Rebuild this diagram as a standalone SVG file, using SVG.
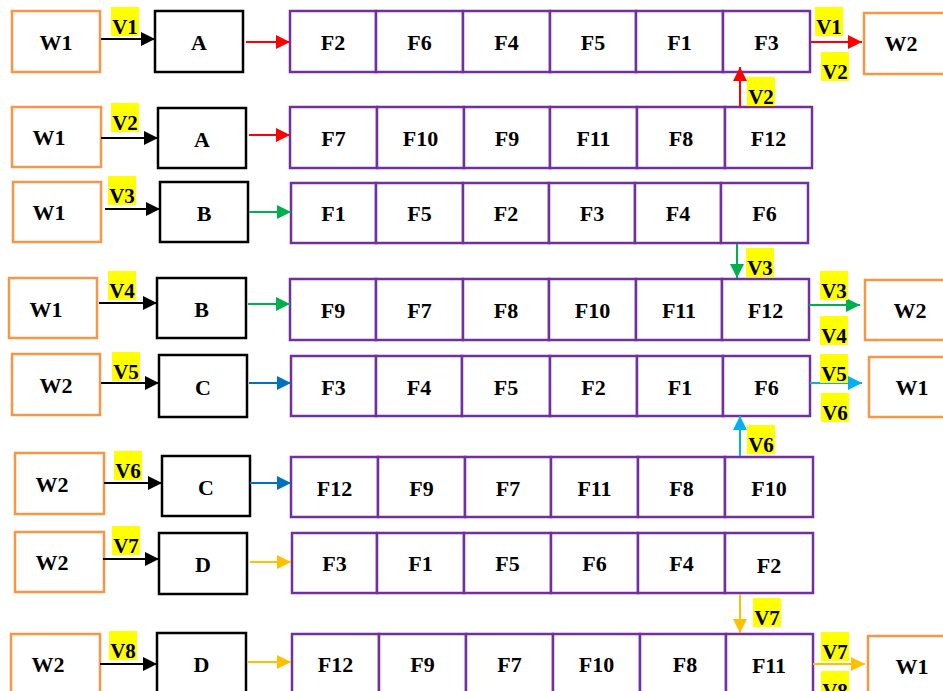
<svg xmlns="http://www.w3.org/2000/svg" width="943" height="691" viewBox="0 0 943 691">
<style>
text{font-family:"Liberation Serif","Times New Roman",serif;font-weight:bold;font-size:22px;fill:#000;text-anchor:middle;dominant-baseline:central}
.w{fill:#fff;stroke:#F79646;stroke-width:2.5}
.p{fill:#fff;stroke:#000;stroke-width:2.5}
.f{fill:#fff;stroke:#7030A0;stroke-width:2.5}
.lab rect{fill:#FFFF00}
.lab text{dominant-baseline:auto;font-size:21px}
.k{stroke:#000;stroke-width:2;fill:none}
.r{stroke:#FF0000;stroke-width:2;fill:none}
.g{stroke:#00B050;stroke-width:2;fill:none}
.b{stroke:#0070C0;stroke-width:2;fill:none}
.lb{stroke:#00B0F0;stroke-width:2;fill:none}
.o{stroke:#FFC000;stroke-width:2;fill:none}
</style>
<defs>
<marker id="mk" markerUnits="userSpaceOnUse" markerWidth="16" markerHeight="16" refX="15" refY="8" orient="auto"><path d="M1,1 L15,8 L1,15 Z" fill="#000"/></marker>
<marker id="mr" markerUnits="userSpaceOnUse" markerWidth="16" markerHeight="16" refX="15" refY="8" orient="auto"><path d="M1,1 L15,8 L1,15 Z" fill="#FF0000"/></marker>
<marker id="mg" markerUnits="userSpaceOnUse" markerWidth="16" markerHeight="16" refX="15" refY="8" orient="auto"><path d="M1,1 L15,8 L1,15 Z" fill="#00B050"/></marker>
<marker id="mb" markerUnits="userSpaceOnUse" markerWidth="16" markerHeight="16" refX="15" refY="8" orient="auto"><path d="M1,1 L15,8 L1,15 Z" fill="#0070C0"/></marker>
<marker id="mlb" markerUnits="userSpaceOnUse" markerWidth="16" markerHeight="16" refX="15" refY="8" orient="auto"><path d="M1,1 L15,8 L1,15 Z" fill="#00B0F0"/></marker>
<marker id="mo" markerUnits="userSpaceOnUse" markerWidth="16" markerHeight="16" refX="15" refY="8" orient="auto"><path d="M1,1 L15,8 L1,15 Z" fill="#FFC000"/></marker>
</defs>
<rect width="943" height="691" fill="#fff"/>

<!-- Row 1 -->
<g id="r1-w1"><rect class="w" x="12" y="11" width="88" height="61"/><text x="56" y="42">W1</text></g>
<g id="r1-a"><rect class="p" x="155" y="11" width="88" height="61"/><text x="199" y="42">A</text></g>
<g id="r1-f">
<rect class="f" x="290" y="11" width="86" height="61"/><text x="333" y="42">F2</text>
<rect class="f" x="376" y="11" width="87" height="61"/><text x="419.5" y="42">F6</text>
<rect class="f" x="463" y="11" width="87" height="61"/><text x="506.5" y="42">F4</text>
<rect class="f" x="550" y="11" width="86" height="61"/><text x="593" y="42">F5</text>
<rect class="f" x="636" y="11" width="87" height="61"/><text x="679.5" y="42">F1</text>
<rect class="f" x="723" y="11" width="87" height="61"/><text x="766.5" y="42">F3</text>
</g>
<g id="r1-w2"><rect class="w" x="864" y="13" width="92" height="61"/><text x="901" y="43">W2</text></g>

<!-- Row 2 -->
<g id="r2-w1"><rect class="w" x="12" y="107" width="89" height="60"/><text x="49" y="137">W1</text></g>
<g id="r2-a"><rect class="p" x="158" y="108" width="88" height="60"/><text x="202" y="139">A</text></g>
<g id="r2-f">
<rect class="f" x="290" y="107" width="87" height="61"/><text x="333.5" y="138">F7</text>
<rect class="f" x="377" y="107" width="87" height="61"/><text x="420.5" y="138">F10</text>
<rect class="f" x="464" y="107" width="86" height="61"/><text x="507" y="138">F9</text>
<rect class="f" x="550" y="107" width="87" height="61"/><text x="593.5" y="138">F11</text>
<rect class="f" x="637" y="107" width="88" height="61"/><text x="681" y="138">F8</text>
<rect class="f" x="725" y="107" width="87" height="61"/><text x="768.5" y="138">F12</text>
</g>

<!-- Row 3 -->
<g id="r3-w1"><rect class="w" x="13" y="182" width="88" height="60"/><text x="49" y="212">W1</text></g>
<g id="r3-b"><rect class="p" x="160" y="182" width="88" height="60"/><text x="204" y="213">B</text></g>
<g id="r3-f">
<rect class="f" x="291" y="183" width="85" height="60"/><text x="333.5" y="213">F1</text>
<rect class="f" x="376" y="183" width="87" height="60"/><text x="419.5" y="213">F5</text>
<rect class="f" x="463" y="183" width="86" height="60"/><text x="506" y="213">F2</text>
<rect class="f" x="549" y="183" width="86" height="60"/><text x="592" y="213">F3</text>
<rect class="f" x="635" y="183" width="86" height="60"/><text x="678" y="213">F4</text>
<rect class="f" x="721" y="183" width="87" height="60"/><text x="764.5" y="213">F6</text>
</g>

<!-- Row 4 -->
<g id="r4-w1"><rect class="w" x="9" y="278" width="88" height="60"/><text x="46" y="309">W1</text></g>
<g id="r4-b"><rect class="p" x="157" y="278" width="89" height="60"/><text x="201.5" y="309">B</text></g>
<g id="r4-f">
<rect class="f" x="290" y="279" width="86" height="61"/><text x="333" y="310">F9</text>
<rect class="f" x="376" y="279" width="87" height="61"/><text x="419.5" y="310">F7</text>
<rect class="f" x="463" y="279" width="86" height="61"/><text x="506" y="310">F8</text>
<rect class="f" x="549" y="279" width="87" height="61"/><text x="592.5" y="310">F10</text>
<rect class="f" x="636" y="279" width="86" height="61"/><text x="679" y="310">F11</text>
<rect class="f" x="722" y="279" width="87" height="61"/><text x="765.5" y="310">F12</text>
</g>
<g id="r4-w2"><rect class="w" x="865" y="280" width="92" height="60"/><text x="910" y="310">W2</text></g>

<!-- Row 5 -->
<g id="r5-w2"><rect class="w" x="12" y="354" width="88" height="61"/><text x="56" y="385">W2</text></g>
<g id="r5-c"><rect class="p" x="159" y="355" width="88" height="62"/><text x="203" y="387">C</text></g>
<g id="r5-f">
<rect class="f" x="291" y="356" width="85" height="60"/><text x="333.5" y="387">F3</text>
<rect class="f" x="376" y="356" width="86" height="60"/><text x="419" y="387">F4</text>
<rect class="f" x="462" y="356" width="88" height="60"/><text x="506" y="387">F5</text>
<rect class="f" x="550" y="356" width="87" height="60"/><text x="593.5" y="387">F2</text>
<rect class="f" x="637" y="356" width="86" height="60"/><text x="680" y="387">F1</text>
<rect class="f" x="723" y="356" width="87" height="60"/><text x="766.5" y="387">F6</text>
</g>
<g id="r5-w1"><rect class="w" x="869" y="357" width="92" height="60"/><text x="912" y="387">W1</text></g>

<!-- Row 6 -->
<g id="r6-w2"><rect class="w" x="15" y="453" width="89" height="61"/><text x="52" y="484">W2</text></g>
<g id="r6-c"><rect class="p" x="162" y="456" width="88" height="60"/><text x="206" y="487">C</text></g>
<g id="r6-f">
<rect class="f" x="291" y="457" width="87" height="60"/><text x="334.5" y="488">F12</text>
<rect class="f" x="378" y="457" width="87" height="60"/><text x="421.5" y="488">F9</text>
<rect class="f" x="465" y="457" width="86" height="60"/><text x="508" y="488">F7</text>
<rect class="f" x="551" y="457" width="87" height="60"/><text x="594.5" y="488">F11</text>
<rect class="f" x="638" y="457" width="87" height="60"/><text x="681.5" y="488">F8</text>
<rect class="f" x="725" y="457" width="88" height="60"/><text x="769" y="488">F10</text>
</g>

<!-- Row 7 -->
<g id="r7-w2"><rect class="w" x="15" y="532" width="89" height="60"/><text x="52" y="562">W2</text></g>
<g id="r7-d"><rect class="p" x="159" y="533" width="88" height="61"/><text x="203" y="564">D</text></g>
<g id="r7-f">
<rect class="f" x="292" y="533" width="85" height="60"/><text x="334.5" y="563">F3</text>
<rect class="f" x="377" y="533" width="87" height="60"/><text x="420.5" y="563">F1</text>
<rect class="f" x="464" y="533" width="87" height="60"/><text x="507.5" y="563">F5</text>
<rect class="f" x="551" y="533" width="87" height="60"/><text x="594.5" y="563">F6</text>
<rect class="f" x="638" y="533" width="87" height="60"/><text x="681.5" y="563">F4</text>
<rect class="f" x="725" y="533" width="88" height="60"/><text x="769" y="565">F2</text>
</g>

<!-- Row 8 -->
<g id="r8-w2"><rect class="w" x="11" y="634" width="89" height="70"/><text x="48" y="664">W2</text></g>
<g id="r8-d"><rect class="p" x="157" y="633" width="89" height="70"/><text x="201.5" y="664">D</text></g>
<g id="r8-f">
<rect class="f" x="292" y="634" width="87" height="70"/><text x="335.5" y="664">F12</text>
<rect class="f" x="379" y="634" width="87" height="70"/><text x="422.5" y="664">F9</text>
<rect class="f" x="466" y="634" width="87" height="70"/><text x="509.5" y="664">F7</text>
<rect class="f" x="553" y="634" width="87" height="70"/><text x="596.5" y="664">F10</text>
<rect class="f" x="640" y="634" width="86" height="70"/><text x="685" y="664">F8</text>
<rect class="f" x="726" y="634" width="87" height="70"/><text x="769" y="665">F11</text>
</g>
<g id="r8-w1"><rect class="w" x="868" y="636" width="92" height="70"/><text x="912" y="666">W1</text></g>

<!-- Connectors -->
<g id="connectors">
<line class="k" x1="101" y1="39" x2="155" y2="39" marker-end="url(#mk)"/>
<line class="r" x1="246" y1="42" x2="290" y2="42" marker-end="url(#mr)"/>
<line class="r" x1="811" y1="42" x2="862" y2="42" marker-end="url(#mr)"/>
<line class="r" x1="740" y1="107" x2="740" y2="67" marker-end="url(#mr)"/>
<line class="k" x1="101" y1="138" x2="158" y2="138" marker-end="url(#mk)"/>
<line class="r" x1="249" y1="135" x2="290" y2="135" marker-end="url(#mr)"/>
<line class="k" x1="105" y1="209" x2="160" y2="209" marker-end="url(#mk)"/>
<line class="g" x1="249" y1="212" x2="291" y2="212" marker-end="url(#mg)"/>
<line class="g" x1="737" y1="244" x2="737" y2="278" marker-end="url(#mg)"/>
<line class="k" x1="99" y1="303" x2="157" y2="303" marker-end="url(#mk)"/>
<line class="g" x1="248" y1="304" x2="290" y2="304" marker-end="url(#mg)"/>
<line class="g" x1="809" y1="305" x2="860" y2="305" marker-end="url(#mg)"/>
<line class="k" x1="101" y1="383" x2="159" y2="383" marker-end="url(#mk)"/>
<line class="b" x1="249" y1="383" x2="291" y2="383" marker-end="url(#mb)"/>
<line class="lb" x1="810" y1="383" x2="862" y2="383" marker-end="url(#mlb)"/>
<line class="lb" x1="740" y1="456" x2="740" y2="416" marker-end="url(#mlb)"/>
<line class="k" x1="104" y1="483" x2="162" y2="483" marker-end="url(#mk)"/>
<line class="b" x1="250" y1="483" x2="291" y2="483" marker-end="url(#mb)"/>
<line class="k" x1="103" y1="559" x2="159" y2="559" marker-end="url(#mk)"/>
<line class="o" x1="250" y1="562" x2="291" y2="562" marker-end="url(#mo)"/>
<line class="o" x1="740" y1="594" x2="740" y2="633" marker-end="url(#mo)"/>
<line class="k" x1="100" y1="664" x2="157" y2="664" marker-end="url(#mk)"/>
<line class="o" x1="247" y1="662" x2="291" y2="662" marker-end="url(#mo)"/>
<line class="o" x1="813" y1="664" x2="865" y2="664" marker-end="url(#mo)"/>
</g>

<!-- Labels -->
<g class="lab">
<rect x="111" y="7" width="28" height="29"/><text x="125" y="34">V1</text>
<rect x="815" y="7" width="28" height="29"/><text x="829" y="34">V1</text>
<rect x="821" y="52" width="28" height="29"/><text x="835" y="79">V2</text>
<rect x="747" y="77" width="28" height="29"/><text x="761" y="104">V2</text>
<rect x="111" y="103" width="28" height="29"/><text x="125" y="130">V2</text>
<rect x="108" y="176" width="28" height="29"/><text x="122" y="203">V3</text>
<rect x="746" y="248" width="28" height="29"/><text x="760" y="275">V3</text>
<rect x="108" y="271" width="28" height="29"/><text x="122" y="298">V4</text>
<rect x="820" y="271" width="28" height="29"/><text x="834" y="298">V3</text>
<rect x="820" y="316" width="28" height="29"/><text x="834" y="343">V4</text>
<rect x="112" y="352" width="28" height="29"/><text x="126" y="379">V5</text>
<rect x="820" y="354" width="28" height="29"/><text x="834" y="381">V5</text>
<rect x="821" y="393" width="28" height="29"/><text x="835" y="420">V6</text>
<rect x="747" y="425" width="28" height="29"/><text x="761" y="452">V6</text>
<rect x="114" y="451" width="28" height="29"/><text x="128" y="478">V6</text>
<rect x="112" y="526" width="28" height="29"/><text x="126" y="553">V7</text>
<rect x="753" y="598" width="28" height="29"/><text x="767" y="625">V7</text>
<rect x="109" y="631" width="28" height="29"/><text x="123" y="658">V8</text>
<rect x="821" y="632" width="28" height="29"/><text x="835" y="659">V7</text>
<rect x="821" y="671" width="28" height="29"/><text x="835" y="698">V8</text>
</g>
</svg>
